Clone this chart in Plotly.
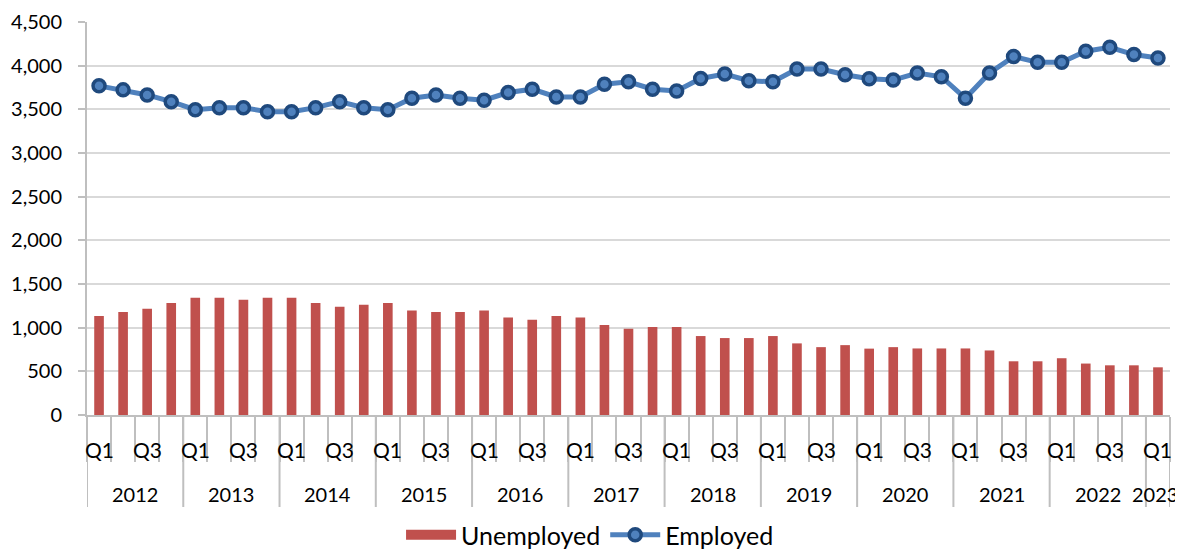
import plotly.graph_objects as go

years = ["2012", "2013", "2014", "2015", "2016", "2017",
         "2018", "2019", "2020", "2021", "2022", "2023"]
quarters = ["Q1", "Q2", "Q3", "Q4"]
shown_quarters = ["Q1", "Q3"]  # alternate quarter labels are skipped in the reference
n_points = 45  # 2012 Q1 .. 2023 Q1

categories = [f"{y} {q}" for y in years for q in quarters][:n_points]

unemployed = [1135, 1178, 1216, 1282, 1343, 1343, 1320, 1343, 1343, 1282, 1239, 1262,
              1282, 1196, 1178, 1178, 1196, 1115, 1092, 1135, 1115, 1031, 988, 1008,
              1008, 904, 881, 881, 904, 820, 777, 800, 760, 777, 762, 762,
              762, 739, 615, 615, 650, 589, 569, 569, 546]

employed = [3769, 3723, 3665, 3588, 3496, 3519, 3519, 3473, 3473, 3519, 3588, 3519,
            3496, 3627, 3665, 3627, 3604, 3692, 3731, 3642, 3642, 3788, 3815, 3731,
            3711, 3854, 3904, 3827, 3815, 3961, 3961, 3896, 3850, 3835, 3916, 3873,
            3627, 3916, 4104, 4038, 4038, 4165, 4211, 4127, 4088]

font_family = "Lato, Open Sans, sans-serif"
red = "#C0504D"
blue = "#4F81BD"
dark_blue = "#1F497D"
axis_grey = "#BFBFBF"

# page body has an 8px margin, so figure coords = screen coords - 8
FIG_W, FIG_H = 1175, 543
PLOT_LEFT, PLOT_RIGHT = 79, 1162
PLOT_TOP, PLOT_BOTTOM = 14, 407
plot_h = PLOT_BOTTOM - PLOT_TOP
plot_w = PLOT_RIGHT - PLOT_LEFT


def px_below(px):
    """paper y for a point px pixels below the x axis"""
    return -px / plot_h


fig = go.Figure()
fig.add_trace(go.Bar(
    x=categories, y=unemployed, name="Unemployed",
    marker=dict(color=red, line=dict(width=0)), showlegend=False,
))
# legend swatch for the bars (wide rectangle like the reference)
fig.add_trace(go.Scatter(
    x=[categories[0]], y=[None], name="Unemployed", mode="lines",
    line=dict(color=red, width=17), hoverinfo="skip",
))
fig.add_trace(go.Scatter(
    x=categories, y=employed, name="Employed", mode="lines+markers",
    line=dict(color=blue, width=5),
    marker=dict(size=12, color=blue, line=dict(color=dark_blue, width=3.5)),
))

annotations = []
shapes = []
# quarter labels
for i, cat in enumerate(categories):
    q = cat.split(" ")[1]
    if q in shown_quarters:
        annotations.append(dict(x=i, y=px_below(34), xref="x", yref="paper",
                                text=q, showarrow=False, yanchor="middle",
                                font=dict(size=21)))
# year labels and dividers
for k, y in enumerate(years):
    start = 4 * k
    end = min(4 * k + 3, n_points - 1)
    label = dict(x=(start + end) / 2, y=px_below(79), xref="x", yref="paper",
                 text=y, showarrow=False, yanchor="middle", font=dict(size=20))
    if end == start:  # single-quarter group at the right edge: keep it inside the figure
        label.update(x=end + 0.5, xanchor="right", xshift=10)
    annotations.append(label)
    shapes.append(dict(type="line", xref="x", yref="paper", x0=start - 0.5, x1=start - 0.5,
                       y0=0, y1=px_below(92), line=dict(color=axis_grey, width=2)))
shapes.append(dict(type="line", xref="x", yref="paper", x0=n_points - 0.5, x1=n_points - 0.5,
                   y0=0, y1=px_below(92), line=dict(color=axis_grey, width=2)))

fig.update_layout(
    width=FIG_W, height=FIG_H,
    margin=dict(l=PLOT_LEFT, r=FIG_W - PLOT_RIGHT, t=PLOT_TOP, b=FIG_H - PLOT_BOTTOM,
                autoexpand=False),
    plot_bgcolor="white", paper_bgcolor="white",
    font=dict(family=font_family, size=19, color="black"),
    bargap=0.6,
    showlegend=True,
    legend=dict(orientation="h", x=0.4645, xanchor="center", y=px_below(97), yanchor="top",
                font=dict(size=25), itemwidth=50, tracegroupgap=0),
    annotations=annotations,
    shapes=shapes,
)
fig.update_yaxes(
    range=[0, 4500], dtick=500, tickformat=",",
    showgrid=True, gridcolor="#D9D9D9", gridwidth=2,
    showline=True, linecolor=axis_grey, linewidth=2,
    ticks="outside", ticklen=7, tickcolor=axis_grey, tickwidth=2,
    ticklabelstandoff=12,
    zeroline=False, tickfont=dict(size=20),
)
fig.update_xaxes(
    type="category", range=[-0.5, n_points - 0.5],
    showticklabels=False,
    showline=True, linecolor=axis_grey, linewidth=2,
    ticks="outside", tickson="boundaries", ticklen=45, tickcolor=axis_grey, tickwidth=2,
    showgrid=False,
)

fig.write_html("out.html")
